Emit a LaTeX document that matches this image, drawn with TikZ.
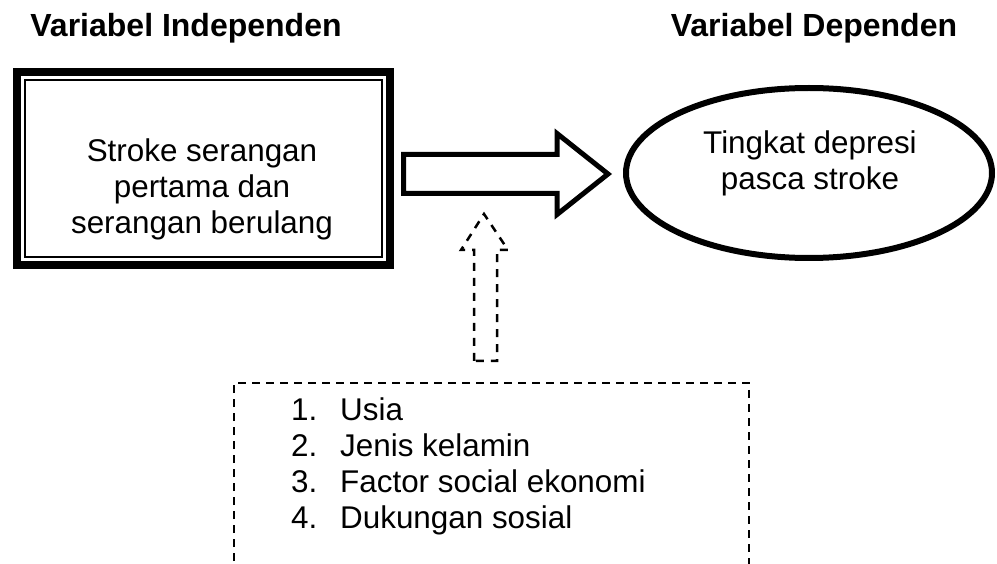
\documentclass[tikz,border=0pt]{standalone}
\usepackage{fontspec}
\setmainfont{Liberation Sans}
\usetikzlibrary{shapes.geometric}
\begin{document}
\begin{tikzpicture}[x=1pt, y=-1pt, every node/.style={font=\fontsize{31.4}{36}\selectfont, inner sep=0pt},
  vartitle/.style={font=\fontsize{32}{36}\selectfont\bfseries, anchor=base},
  dashline/.style={line width=2.5pt, dash pattern=on 8pt off 7pt},
  item/.style={anchor=base west}]
\useasboundingbox (0,0) rectangle (997,564);
% titles
\node[vartitle] (tind) at (186,37) {Variabel Independen};
\node[vartitle] (tdep) at (814,37) {Variabel Dependen};
% independent variable, double frame
\node[draw, line width=8pt, minimum width=373pt, minimum height=193pt] (ind) at (203.5,168.5) {};
\draw[line width=2pt] (25,80) rectangle (382,257);
\node[align=center] (indtxt) at (202,189) {Stroke serangan\\pertama dan\\serangan berulang};
% dependent variable
\node[ellipse, draw, line width=6pt, minimum width=366pt, minimum height=170pt] (dep) at (809,173) {};
\node[align=center] (deptxt) at (810,163) {Tingkat depresi\\pasca stroke};
% block arrow
\draw[line width=5pt, miter limit=10] (403.5,154.5) -- (557,154.5) -- (557,133.5) -- (608,174)
  -- (557,214.5) -- (557,193.5) -- (403.5,193.5) -- cycle;
% confounding factors
\draw[dashline] (474,361) -- (474,250) -- (461,250) -- (484,214) -- (508,250) -- (497,250) -- (497,361) -- cycle;
\draw[dashline, dash pattern=on 8pt off 6pt] (234,575) -- (234,383) -- (749,383) -- (749,575);
\node[item] (n1) at (291,420) {1.}; \node[item] (i1) at (340,420) {Usia};
\node[item] (n2) at (291,456) {2.}; \node[item] (i2) at (340,456) {Jenis kelamin};
\node[item] (n3) at (291,492) {3.}; \node[item] (i3) at (340,492) {Factor social ekonomi};
\node[item] (n4) at (291,528) {4.}; \node[item] (i4) at (340,528) {Dukungan sosial};
\end{tikzpicture}
\end{document}
